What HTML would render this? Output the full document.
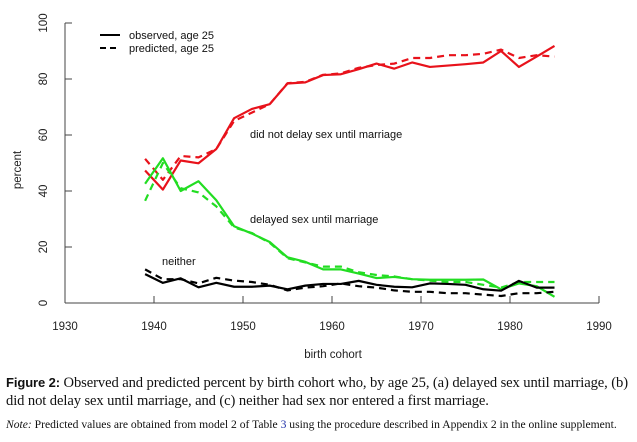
<!DOCTYPE html>
<html><head><meta charset="utf-8"><style>
body{margin:0;background:#fff;width:637px;height:442px;overflow:hidden;font-family:"Liberation Sans",sans-serif}
svg text{font-family:"Liberation Sans",sans-serif}
.cap{position:absolute;left:6px;font-family:"Liberation Serif",serif;color:#111;white-space:nowrap}
</style></head><body>
<svg width="637" height="365" style="position:absolute;left:0;top:0" id="chart"></svg>
<div class="cap" style="top:374px;font-size:14.6px;line-height:18px;letter-spacing:-0.1px"><b style="font-family:'Liberation Sans Narrow','Liberation Sans',sans-serif;font-size:13px">Figure 2:</b> Observed and predicted percent by birth cohort who, by age 25, (a) delayed sex until marriage, (b)<br>did not delay sex until marriage, and (c) neither had sex nor entered a first marriage.</div>
<div class="cap" style="top:418px;font-size:11.6px"><i>Note:</i> Predicted values are obtained from model 2 of Table <span style="color:#2233aa">3</span> using the procedure described in Appendix 2 in the online supplement.</div>
<script>
const years=[1939,1941,1943,1945,1947,1949,1951,1953,1955,1957,1959,1961,1963,1965,1967,1969,1971,1973,1975,1977,1979,1981,1983,1985];
const redObs=[47.3,40.5,50.9,49.9,55,66,69.3,71,78.4,78.8,81.4,81.7,83.5,85.5,83.7,85.9,84.3,84.8,85.3,85.9,90,84.3,88,91.8];
const redPred=[51.5,44,52.5,52,55,65,68,71,78.5,79,81.5,82,84,85,85.5,87.5,87.5,88.5,88.5,89,90.5,87.5,88.5,88];
const greenObs=[42.6,51.7,40,43.5,36.7,27.4,24.8,21.8,16.3,14.7,12,12,10.5,8.9,9.3,8.5,8.3,8.3,8.3,8.4,4.9,7,6,2.2];
const greenPred=[36.5,50,41,39.5,34.5,27,25,21.5,16,14.5,13,13,11,10,9.5,8.5,8,7.5,7.5,6.5,5.5,7.5,7.5,7.5];
const blackObs=[10.3,7.2,8.8,5.6,7.2,5.8,5.8,6.2,4.9,6.2,6.8,6.8,7.9,6.5,5.8,5.6,7,6.8,6.5,4.9,4.4,7.9,5.5,5.5];
const blackPred=[12,8.5,8.5,7,9,8,7.5,6.5,4.5,5.5,6,7,6,5.5,4.5,4,4,3.5,3.5,3,2.5,3.5,3.5,4];
const xTicks=[1930,1940,1950,1960,1970,1980,1990];
const yTicks=[0,20,40,60,80,100];
const X=v=>65+(v-1930)*8.9, Y=v=>303-v*2.8;
const svg=document.getElementById('chart');const NS='http://www.w3.org/2000/svg';
function mk(t,a,txt){const e=document.createElementNS(NS,t);for(const k in a)e.setAttribute(k,a[k]);if(txt!==undefined)e.textContent=txt;svg.appendChild(e);return e;}
let e=mk('line',{x1:65,y1:303,x2:X(1990),y2:303,stroke:'#444'});


e=mk('line',{x1:65,y1:303,x2:65,y2:Y(100),stroke:'#444'});


xTicks.forEach(t=>{e=mk('line',{x1:X(t),y1:303,x2:X(t),y2:296,stroke:'#444'});


e=mk('text',{x:X(t),y:330,'font-size':11.5,'text-anchor':'middle',fill:'#222'},t);

});
yTicks.forEach(t=>{e=mk('line',{x1:65,y1:Y(t),x2:72,y2:Y(t),stroke:'#444'});


e=mk('text',{x:0,y:0,'font-size':11.5,'text-anchor':'middle',fill:'#222',transform:`translate(47,${Y(t)}) rotate(-90)`},t);

});
e=mk('text',{x:333,y:358,'font-size':11.5,'text-anchor':'middle',fill:'#222'},'birth cohort');


e=mk('text',{x:0,y:0,'font-size':11.5,'text-anchor':'middle',fill:'#222',transform:'translate(21,170) rotate(-90)'},'percent');


function line(vals,col,dash,name){const p=years.map((y,i)=>X(y)+','+Y(vals[i])).join(' ');
const l=mk('polyline',{points:p,fill:'none',stroke:col,'stroke-width':2.2,'stroke-dasharray':dash?'7,5':'none','stroke-linejoin':'round'});

}
line(redPred,'#e8121b',1,'red-predicted-line');line(redObs,'#e8121b',0,'red-observed-line');
line(greenPred,'#22dd22',1,'green-predicted-line');line(greenObs,'#22dd22',0,'green-observed-line');
line(blackPred,'#000',1,'black-predicted-line');line(blackObs,'#000',0,'black-observed-line');
e=mk('text',{x:250,y:138,'font-size':11,fill:'#111'},'did not delay sex until marriage');


e=mk('text',{x:250,y:223,'font-size':11,fill:'#111'},'delayed sex until marriage');


e=mk('text',{x:162,y:265,'font-size':11,fill:'#111'},'neither');


e=mk('line',{x1:100,y1:35,x2:120,y2:35,stroke:'#000','stroke-width':2});


e=mk('line',{x1:100,y1:48,x2:120,y2:48,stroke:'#000','stroke-width':2,'stroke-dasharray':'6,4'});


e=mk('text',{x:129,y:39,'font-size':11,fill:'#111'},'observed, age 25');


e=mk('text',{x:129,y:52,'font-size':11,fill:'#111'},'predicted, age 25');


</script>
</body></html>
